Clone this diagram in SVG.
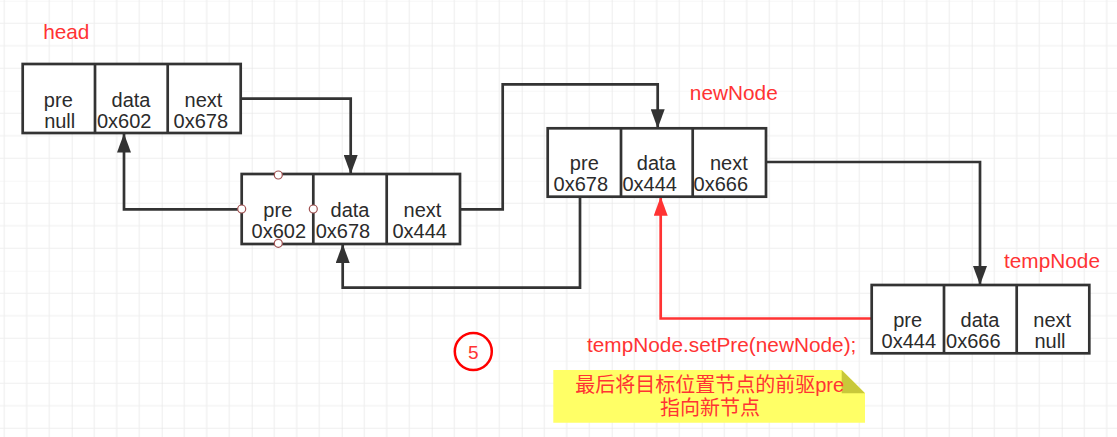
<svg xmlns="http://www.w3.org/2000/svg" width="1117" height="437" viewBox="0 0 1117 437">
<style>
.cell{fill:#ffffff;stroke:#333333;stroke-width:2.7}
.div{stroke:#333333;stroke-width:2.7}
.t{font-family:"Liberation Sans",Arial,sans-serif;font-size:20px;fill:#2b2b2b;text-anchor:middle}
.lbl{font-family:"Liberation Sans",Arial,sans-serif;font-size:20.8px;fill:#ff3333;text-anchor:middle}
.cjk{font-family:"Liberation Sans","Noto Sans CJK SC",sans-serif;font-size:20px;fill:#ff3333;text-anchor:middle}
.con{fill:none;stroke:#333333;stroke-width:2.7}
.red{fill:none;stroke:#ff3333;stroke-width:2.7}
.pt{fill:#ffffff;stroke:#a05050;stroke-width:1.2}
</style>
<defs>
<pattern id="grid" x="71.7" y="0.75" width="90" height="90" patternUnits="userSpaceOnUse">
<path d="M22.5,0V90M45,0V90M67.5,0V90M0,0H90M0,22.5H90M0,45H90M0,67.5H90" stroke="#efefef" stroke-width="1.2" fill="none"/>
<path d="M0,0V90" stroke="#e2e2e2" stroke-width="1.2" fill="none"/>
</pattern>
<marker id="ah" viewBox="0 0 19 14" refX="19" refY="7" markerWidth="19" markerHeight="14" markerUnits="userSpaceOnUse" orient="auto">
<path d="M0,0L19,7L0,14z" fill="#333333"/>
</marker>
<marker id="ahr" viewBox="0 0 19 14" refX="19" refY="7" markerWidth="19" markerHeight="14" markerUnits="userSpaceOnUse" orient="auto">
<path d="M0,0L19,7L0,14z" fill="#ff3333"/>
</marker>
</defs>
<rect width="1117" height="437" fill="#ffffff"/>
<rect width="1117" height="437" fill="url(#grid)"/>

<g id="connectors">
<path class="con" d="M240.7,98.7H350.7V174" marker-end="url(#ah)"/>
<path class="con" d="M241.7,209.3H124V133.5" marker-end="url(#ah)"/>
<path class="con" d="M460,209.3H502.7V84.3H657.7V128.3" marker-end="url(#ah)"/>
<path class="con" d="M580,196.7V287.7H342.7V244" marker-end="url(#ah)"/>
<path class="con" d="M766,162H980V285" marker-end="url(#ah)"/>
<path class="red" d="M871.7,318.5H660.7V196.7" marker-end="url(#ahr)"/>
</g>

<g id="head">
<rect class="cell" x="22.7" y="64" width="218" height="69"/>
<path class="div" d="M95,64V133M167.7,64V133"/>
<text class="t" x="58.3" y="106.7">pre</text>
<text class="t" x="59.7" y="127.7">null</text>
<text class="t" x="131" y="106.7">data</text>
<text class="t" x="124.2" y="127.7">0x602</text>
<text class="t" x="203.5" y="106.7">next</text>
<text class="t" x="200.8" y="127.7">0x678</text>
</g>

<g id="node2">
<rect class="cell" x="241.7" y="174" width="218.3" height="70"/>
<path class="div" d="M313.3,174V244M386.7,174V244"/>
<text class="t" x="277.8" y="216.7">pre</text>
<text class="t" x="278.8" y="237.7">0x602</text>
<text class="t" x="350" y="216.7">data</text>
<text class="t" x="343" y="237.7">0x678</text>
<text class="t" x="422.5" y="216.7">next</text>
<text class="t" x="419.7" y="237.7">0x444</text>
<circle class="pt" cx="278.3" cy="175" r="4"/>
<circle class="pt" cx="241.7" cy="209" r="4"/>
<circle class="pt" cx="313.3" cy="209" r="4"/>
<circle class="pt" cx="278.3" cy="243.3" r="4"/>
</g>

<g id="newNode">
<rect class="cell" x="547.7" y="128.3" width="218.3" height="68.4"/>
<path class="div" d="M621,128.3V196.7M692.7,128.3V196.7"/>
<text class="t" x="584.3" y="170">pre</text>
<text class="t" x="580.8" y="191">0x678</text>
<text class="t" x="656.3" y="170">data</text>
<text class="t" x="649.7" y="191">0x444</text>
<text class="t" x="728.8" y="170">next</text>
<text class="t" x="720.8" y="191">0x666</text>
</g>

<g id="tempNode">
<rect class="cell" x="871.7" y="285" width="217.6" height="68.3"/>
<path class="div" d="M944,285V353.3M1016.7,285V353.3"/>
<text class="t" x="907.7" y="326.7">pre</text>
<text class="t" x="908.8" y="347.7">0x444</text>
<text class="t" x="980" y="326.7">data</text>
<text class="t" x="973.3" y="347.7">0x666</text>
<text class="t" x="1052.2" y="326.7">next</text>
<text class="t" x="1050" y="347.7">null</text>
</g>

<g id="labels">
<text class="lbl" x="66.3" y="39.3">head</text>
<text class="lbl" x="733.8" y="100">newNode</text>
<text class="lbl" x="1052" y="268.3">tempNode</text>
<text class="lbl" x="721.7" y="351.7">tempNode.setPre(newNode);</text>
</g>

<g id="step5">
<circle cx="473.3" cy="351.5" r="18.5" fill="none" stroke="#ff0000" stroke-width="2.5"/>
<text x="473.3" y="358.8" font-family="'Liberation Sans',Arial,sans-serif" font-size="19" fill="#ff3333" text-anchor="middle">5</text>
</g>

<g id="note">
<path d="M553.3,370H841.7L865,393.3V422.7H553.3z" fill="#ffff66"/>
<path d="M841.7,370L865,393.3H841.7z" fill="#c8c83a"/>
<text class="cjk" x="709.7" y="392">最后将目标位置节点的前驱pre</text>
<text class="cjk" x="710" y="415">指向新节点</text>
</g>
</svg>
